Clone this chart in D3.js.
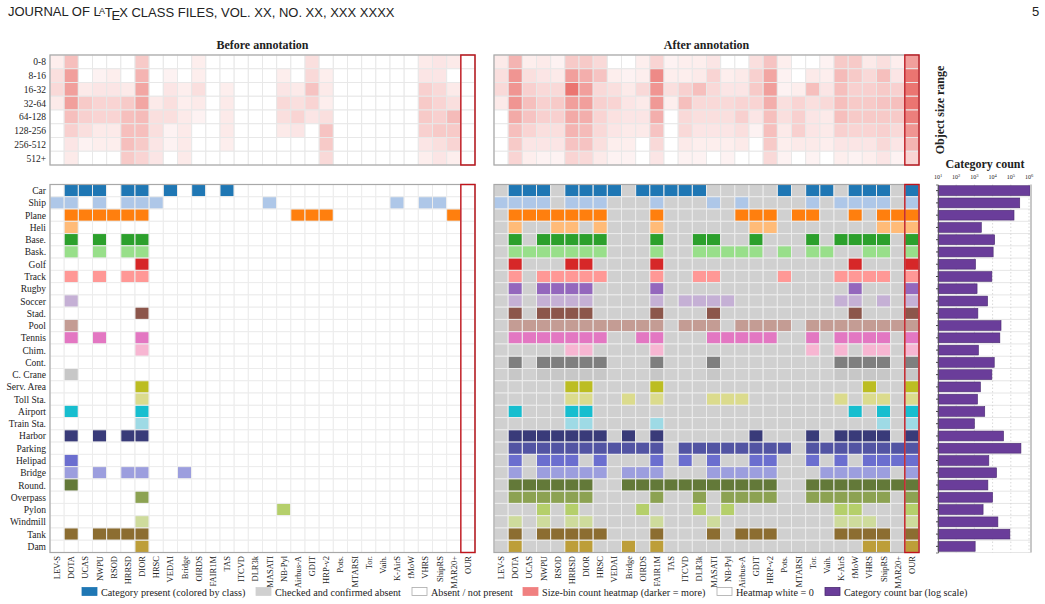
<!DOCTYPE html>
<html>
<head>
<meta charset="utf-8">
<script src="https://cdn.jsdelivr.net/npm/d3@7"></script>
<style>
  body { margin: 0; background: #fff; }
  svg text { font-family: "Liberation Serif", "DejaVu Serif", serif; fill: #222; }
</style>
</head>
<body>
<svg id="chart" width="1045" height="604"></svg>
<script>
const datasets = ["LEV-S","DOTA","UCAS","NWPU","RSOD","HRRSD","DIOR","HRSC","VEDAI","Bridge","OIRDS","FAIR1M","TAS","ITCVD","DLR3k","MASATI","NB-Pyl","Airbus-A","GDIT","HRP-v2","Pots.","MTARSI","Tor.","Vaih.","K-AirS","fMoW","VHRS","ShipRS","MAR20+","OUR"];

const categories = ["Car","Ship","Plane","Heli","Base.","Bask.","Golf","Track","Rugby","Soccer","Stad.","Pool","Tennis","Chim.","Cont.","C. Crane","Serv. Area","Toll Sta.","Airport","Train Sta.","Harbor","Parking","Helipad","Bridge","Round.","Overpass","Pylon","Windmill","Tank","Dam"];

const categoryColors = ["#1f77b4","#aec7e8","#ff7f0e","#ffbb78","#2ca02c","#98df8a","#d62728","#ff9896","#9467bd","#c5b0d5","#8c564b","#c49c94","#e377c2","#f7b6d2","#7f7f7f","#c7c7c7","#bcbd22","#dbdb8d","#17becf","#9edae5","#393b79","#5254a3","#6b6ecf","#9c9ede","#637939","#8ca252","#b5cf6b","#cedb9c","#8c6d31","#bd9e39"];

const sizeBins = ["0-8","8-16","16-32","32-64","64-128","128-256","256-512","512+"];

// dataset indices where each category is present
const beforePresent = [
  [1,2,3,5,6,8,10,12],
  [0,1,3,5,6,7,15,24,26,27],
  [1,2,3,4,5,6,17,18,19,28],
  [1],
  [1,3,5,6],
  [1,3,5,6],
  [6],
  [1,3,5,6],
  [],
  [1],
  [6],
  [1],
  [1,3,6],
  [6],
  [],
  [1],
  [6],
  [6],
  [1,6],
  [6],
  [1,3,5,6],
  [],
  [1],
  [1,3,5,6,9],
  [1],
  [6],
  [16],
  [6],
  [1,3,4,5,6],
  [6]
];

const afterPresent = [
  [1,2,3,5,6,7,8,10,11,12,13,14,20,22,23,25,26,27,29],
  [0,1,2,3,5,6,7,11,15,17,22,24,25,26,27,29],
  [1,2,3,4,5,6,7,11,17,18,19,21,22,25,27,28,29],
  [1,4,5,7,11,18,19,27,28,29],
  [1,3,4,5,6,7,11,14,15,18,22,24,25,26,27,29],
  [1,2,3,4,5,6,7,11,14,15,16,17,18,20,22,23,26,27,29],
  [1,5,6,11,25,29],
  [1,3,4,5,6,7,11,14,15,20,24,25,26,27,29],
  [1,3,4,5,6,11,25,29],
  [1,3,4,5,6,11,13,14,15,16,24,25,27,29],
  [1,3,4,5,6,11,15,25,29],
  [1,2,3,4,5,6,7,8,9,10,11,13,14,15,17,18,19,20,22,23,24,25,26,27,28,29],
  [1,2,3,4,5,6,7,10,11,15,16,17,18,19,22,24,25,26,27,29],
  [5,6,11,22,24,26,27,29],
  [1,3,4,5,6,7,11,15,24,25,26,27,29],
  [1,3,4,5,6,7,11,15,24,25,26,27,29],
  [5,6,11,26,29],
  [5,6,9,11,15,16,17,24,26,27,29],
  [1,5,6,25,27,29],
  [5,6,11,27,29],
  [1,2,3,4,5,6,7,9,11,18,22,24,25,26,27,29],
  [1,2,3,4,5,6,7,8,9,10,11,13,14,15,16,17,18,19,20,22,23,24,25,26,27,28,29],
  [1,3,4,5,7,11,13,15,18,19,22,24,26,27,28,29],
  [1,3,4,5,6,7,9,10,11,15,16,17,18,19,23,24,25,26,27,29],
  [1,2,3,4,5,6,9,10,11,12,13,14,15,16,17,18,19,22,23,24,25,26,27,28,29],
  [1,2,3,4,5,6,11,14,16,17,18,19,22,23,24,25,26,27,29],
  [3,5,10,14,16,24,25,29],
  [1,3,5,6,11,15,24,25,26,29],
  [1,3,4,5,6,7,11,15,17,18,19,24,25,26,27,29],
  [1,5,6,9,11,26,27,29]
];

// size-bin heat level (0 = none, 1 = max), one row per bin, one value per dataset
const beforeHeat = [
  [0.08,0.30,0,0,0,0,0.25,0,0,0,0.08,0,0,0,0,0,0,0,0.15,0,0,0,0,0,0,0,0.10,0.12,0.10,0],
  [0.15,0.45,0,0.06,0.08,0,0.35,0,0.06,0,0.08,0,0,0,0,0,0.08,0,0.18,0.08,0,0,0,0,0,0,0.12,0.12,0,0],
  [0.18,0.45,0.10,0.12,0.12,0.10,0.42,0,0.12,0.08,0.15,0,0.08,0,0,0,0.12,0.10,0.28,0.10,0,0,0,0,0,0,0.22,0.18,0.10,0],
  [0.10,0.45,0.25,0.20,0.20,0.25,0.42,0.10,0.15,0.08,0.10,0,0.10,0,0,0,0.18,0.15,0.20,0.08,0,0,0,0,0,0,0.25,0.20,0.15,0],
  [0,0.30,0.22,0.20,0.20,0.30,0.32,0.15,0.15,0.10,0.06,0,0.10,0,0,0,0.15,0.20,0.12,0.15,0,0,0,0,0,0,0.25,0.22,0.32,0],
  [0,0.22,0.15,0.10,0.10,0.30,0.30,0.15,0.06,0.10,0,0,0.10,0,0,0,0.10,0.12,0,0.28,0,0,0,0,0,0,0.22,0.25,0.25,0],
  [0,0.12,0.06,0.08,0.08,0.30,0.25,0.12,0.06,0.10,0,0,0.08,0,0,0,0,0,0,0.25,0,0,0,0,0,0,0.12,0.15,0.20,0],
  [0,0.10,0,0,0,0.25,0.20,0.12,0,0.10,0,0,0,0,0,0,0,0,0,0.18,0,0,0,0,0,0,0.08,0.12,0.08,0]
];

const afterHeat = [
  [0.10,0.35,0.08,0.10,0.06,0.25,0.25,0.18,0,0,0.08,0.20,0.06,0.08,0.08,0.12,0,0,0.15,0.28,0.08,0,0,0.06,0.25,0.25,0.10,0.15,0.08,0.45],
  [0.15,0.50,0.15,0.12,0.10,0.45,0.38,0.28,0.08,0.06,0.08,0.55,0.08,0.08,0.10,0.20,0.08,0.10,0.22,0.42,0.06,0,0.10,0.08,0.32,0.25,0.18,0.30,0.12,0.65],
  [0.18,0.50,0.22,0.18,0.18,0.65,0.45,0.18,0.15,0.10,0.18,0.50,0.15,0.22,0.30,0.18,0.12,0.12,0.25,0.45,0.06,0.08,0.30,0.12,0.30,0.22,0.22,0.25,0.22,0.65],
  [0.10,0.50,0.30,0.22,0.25,0.45,0.45,0.22,0.20,0.12,0.10,0.48,0.08,0.30,0.18,0.18,0.18,0.20,0.20,0.38,0.15,0.20,0.15,0.18,0.30,0.25,0.25,0.28,0.30,0.65],
  [0,0.40,0.28,0.22,0.22,0.40,0.38,0.20,0.14,0.12,0.12,0.38,0,0.18,0.15,0.15,0.15,0.22,0.12,0.30,0.15,0.22,0.12,0.10,0.30,0.25,0.25,0.25,0.25,0.60],
  [0,0.30,0.20,0.15,0.15,0.35,0.32,0.18,0.12,0.10,0.10,0.28,0,0.18,0.12,0.12,0.12,0.15,0.06,0.30,0.10,0.22,0.12,0.10,0.22,0.20,0.20,0.22,0.18,0.50],
  [0,0.25,0.12,0.12,0.12,0.28,0.28,0.15,0.08,0.08,0,0.18,0,0.10,0.08,0.08,0.08,0.10,0,0.25,0.08,0.10,0.10,0.08,0.12,0.12,0.12,0.18,0.12,0.35],
  [0,0.20,0.08,0.06,0.06,0.20,0.18,0.10,0.06,0.06,0,0.12,0,0.06,0.06,0,0.06,0,0,0.18,0.06,0,0.06,0,0.08,0.06,0.08,0.12,0.06,0.20]
];

const categoryCounts = [1150000,310000,150000,2400,13000,10700,1150,9100,1400,5300,1550,29000,25000,1670,12300,9100,2150,1480,3700,1000,40000,360000,6200,16500,5500,10000,3000,19500,89000,1100];

const countTicks = [10,100,1000,10000,100000,1000000];

const legendItems = [
  {label: "Category present (colored by class)", fill: "#1f77b4", stroke: "#1f77b4", x: 82},
  {label: "Checked and confirmed absent", fill: "#d0d0d0", stroke: "#d0d0d0", x: 256},
  {label: "Absent / not present", fill: "#ffffff", stroke: "#aaaaaa", x: 412},
  {label: "Size-bin count heatmap (darker = more)", fill: "#f08080", stroke: "#f08080", x: 523},
  {label: "Heatmap white = 0", fill: "#ffffff", stroke: "#aaaaaa", x: 717},
  {label: "Category count bar (log scale)", fill: "#6a3d9a", stroke: "#4a2a70", x: 825}
];

const svg = d3.select("#chart");

// page header
const sans = "Liberation Sans, Arial, sans-serif";
const hdr = svg.append("text").attr("x", 8).attr("y", 16)
  .style("font-size", "13px").style("font-family", sans);
hdr.append("tspan").text("JOURNAL OF L");
hdr.append("tspan").attr("dx", "-0.2em").attr("dy", "-0.25em").style("font-size", "9px").text("A");
hdr.append("tspan").attr("dx", "-0.02em").attr("dy", "0.25em").text("T");
hdr.append("tspan").attr("dx", "-0.08em").attr("dy", "0.22em").text("E");
hdr.append("tspan").attr("dx", "-0.08em").attr("dy", "-0.22em").text("X CLASS FILES, VOL. XX, NO. XX, XXX XXXX");
svg.append("text").attr("x", 1032).attr("y", 16).style("font-size", "13px")
  .style("font-family", sans).text("5");

const heatColor = d3.scaleLinear().domain([0, 1]).range(["#ffffff", "#e02a24"]);

const yBin = d3.scaleBand().domain(sizeBins).range([55, 165]);
const yCat = d3.scaleBand().domain(categories).range([184.5, 552.5]);

const panels = [
  {title: "Before annotation", x0: 50, x1: 475, heat: beforeHeat, present: beforePresent, absent: "#ffffff", labels: true},
  {title: "After annotation", x0: 494, x1: 919, heat: afterHeat, present: afterPresent, absent: "#d0d0d0", labels: false}
];

panels.forEach(p => {
  const x = d3.scaleBand().domain(datasets).range([p.x0, p.x1]);
  const g = svg.append("g");

  g.append("text").attr("x", (p.x0 + p.x1) / 2).attr("y", 49).attr("text-anchor", "middle")
    .style("font-size", "12px").style("font-weight", "bold").text(p.title);

  // size-bin heatmap
  const heatCells = [];
  p.heat.forEach((row, i) => row.forEach((v, j) => heatCells.push({bin: sizeBins[i], ds: datasets[j], v})));
  g.selectAll(".heat").data(heatCells).enter().append("rect")
    .attr("x", d => x(d.ds)).attr("y", d => yBin(d.bin))
    .attr("width", x.bandwidth()).attr("height", yBin.bandwidth())
    .attr("fill", d => heatColor(d.v))
    .attr("stroke", "#e8e8e8").attr("stroke-width", 1);

  // presence grid
  const cells = [];
  categories.forEach((c, i) => datasets.forEach((ds, j) => {
    const on = p.present[i].includes(j);
    cells.push({cat: c, ds, fill: on ? categoryColors[i] : p.absent});
  }));
  g.selectAll(".cell").data(cells).enter().append("rect")
    .attr("x", d => x(d.ds)).attr("y", d => yCat(d.cat))
    .attr("width", x.bandwidth()).attr("height", yCat.bandwidth())
    .attr("fill", d => d.fill)
    .attr("stroke", "#ececec").attr("stroke-width", 1);

  // frames
  [[55, 165], [184.5, 552.5]].forEach(([t, b]) => {
    g.append("rect").attr("x", p.x0).attr("y", t).attr("width", p.x1 - p.x0).attr("height", b - t)
      .attr("fill", "none").attr("stroke", "#a8a8a8").attr("stroke-width", 1.2);
    g.append("rect").attr("x", x("OUR")).attr("y", t).attr("width", x.bandwidth()).attr("height", b - t)
      .attr("fill", "none").attr("stroke", "#c0141c").attr("stroke-width", 1.4);
  });

  // dataset labels
  g.selectAll(".xl").data(datasets).enter().append("text")
    .attr("transform", d => `translate(${x(d) + x.bandwidth() / 2 + 3},556) rotate(-90)`)
    .attr("text-anchor", "end").style("font-size", "8.5px").text(d => d);

  if (p.labels) {
    g.selectAll(".bl").data(sizeBins).enter().append("text")
      .attr("x", 46).attr("y", d => yBin(d) + yBin.bandwidth() / 2 + 3.5)
      .attr("text-anchor", "end").style("font-size", "9.5px").text(d => d);
    g.selectAll(".cl").data(categories).enter().append("text")
      .attr("x", 46).attr("y", d => yCat(d) + yCat.bandwidth() / 2 + 3.5)
      .attr("text-anchor", "end").style("font-size", "9.5px").text(d => d);
  }
});

svg.append("text").attr("transform", "translate(944,110) rotate(-90)").attr("text-anchor", "middle")
  .style("font-size", "12px").style("font-weight", "bold").text("Object size range");

// category count bars
const xc = d3.scaleLog().domain([10, 1e6]).range([938, 1029]);
const yBar = d3.scaleBand().domain(categories).range([184.5, 552.5]).paddingInner(0.2).paddingOuter(0.1);
const cg = svg.append("g");

cg.append("text").attr("x", 985).attr("y", 168).attr("text-anchor", "middle")
  .style("font-size", "12px").style("font-weight", "bold").text("Category count");

cg.selectAll(".hg").data(categories).enter().append("line")
  .attr("x1", 938).attr("x2", 1031)
  .attr("y1", d => yCat(d) + yCat.bandwidth()).attr("y2", d => yCat(d) + yCat.bandwidth())
  .attr("stroke", "#e6e6e6").attr("stroke-width", 1);
cg.selectAll(".vg").data(countTicks).enter().append("line")
  .attr("x1", d => xc(d)).attr("x2", d => xc(d)).attr("y1", 184.5).attr("y2", 552.5)
  .attr("stroke", "#cfcfcf").attr("stroke-width", 0.8).attr("stroke-dasharray", "1.5,2");

cg.selectAll(".bar").data(categories).enter().append("rect")
  .attr("x", xc(10)).attr("y", d => yBar(d))
  .attr("width", (d, i) => xc(categoryCounts[i]) - xc(10)).attr("height", yBar.bandwidth())
  .attr("fill", "#6a3d9a").attr("stroke", "#4a2a70").attr("stroke-width", 0.6);

cg.append("line").attr("x1", 1031).attr("x2", 1031).attr("y1", 184.5).attr("y2", 552.5)
  .attr("stroke", "#c8c8c8").attr("stroke-width", 2);

const yAxis = d3.axisLeft(yCat).tickSize(2).tickFormat("");
cg.append("g").attr("transform", "translate(938,0)").call(yAxis)
  .call(a => a.select(".domain").attr("stroke", "#555").attr("stroke-width", 0.8))
  .call(a => a.selectAll(".tick line").attr("stroke", "#444"));

const tl = cg.selectAll(".ct").data(countTicks).enter().append("text")
  .attr("x", d => xc(d)).attr("y", 179).attr("text-anchor", "middle").style("font-size", "6px");
tl.append("tspan").text("10");
tl.append("tspan").attr("dy", -2.5).style("font-size", "4.5px").text(d => Math.round(Math.log10(d)));

// legend
const lg = svg.append("g").selectAll("g").data(legendItems).enter().append("g")
  .attr("transform", d => `translate(${d.x},587.5)`);
lg.append("rect").attr("width", 15).attr("height", 8)
  .attr("fill", d => d.fill).attr("stroke", d => d.stroke).attr("stroke-width", 0.8);
lg.append("text").attr("x", 19).attr("y", 8).style("font-size", "10.2px").text(d => d.label);
</script>
</body>
</html>
